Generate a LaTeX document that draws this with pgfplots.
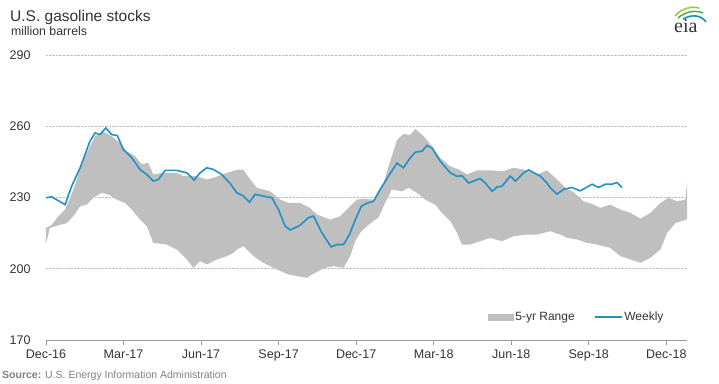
\documentclass[border=0pt]{standalone}
\usepackage{fontspec}
\setmainfont{Liberation Sans}
\newfontfamily\seriffont{Liberation Serif}
\usepackage{pgfplots}
\pgfplotsset{compat=1.18}
\definecolor{rangegray}{RGB}{191,191,191}
\definecolor{weekblue}{RGB}{32,145,196}
\definecolor{txtgray}{RGB}{51,51,51}
\definecolor{srcgray}{RGB}{128,128,128}
\begin{document}
\begin{tikzpicture}
\begin{axis}[
  at={(0,0)}, anchor=south west,
  scale only axis, width=641bp, height=285bp,
  xmin=0, xmax=24.8, ymin=170, ymax=290,
  xtick={0,3,6,9,12,15,18,21,24},
  xticklabels={Dec-16,Mar-17,Jun-17,Sep-17,Dec-17,Mar-18,Jun-18,Sep-18,Dec-18},
  ytick={170,200,230,260,290},
  axis lines*=left,
  y axis line style={draw=none},
  x axis line style={draw=black!40, line width=0.7bp},
  ytick style={draw=none},
  xtick style={draw=black!40, line width=0.7bp},
  tick align=outside, major tick length=5bp,
  ymajorgrids, grid style={densely dotted, draw=black!25, line width=0.6bp},
  /pgf/number format/assume math mode=true,
  tick label style={font=\fontsize{12.5bp}{14bp}\selectfont, text=txtgray},
  yticklabel style={xshift=-7bp},
  xticklabel style={yshift=-1bp},
  legend style={draw=none, fill=none, at={(0.828,0.081)}, anchor=center,
    font=\fontsize{12bp}{14bp}\selectfont, text=txtgray,
    /tikz/every even column/.append style={column sep=17bp}},
  legend columns=2, legend cell align=left,
]
% 5-yr range: upper bound (left to right), then lower bound (right to left)
\addplot[fill=rangegray, draw=none, forget plot] coordinates {
(0.0,217.2)(0.22,218.5)(0.48,222.1)(0.74,224.9)(1.06,233.4)(1.38,244.0)(1.70,251.6)(1.90,255.8)(2.22,257.7)(2.54,255.8)(2.86,253.0)(3.12,249.5)(3.45,247.4)(3.70,244.0)(3.96,244.6)(4.15,239.7)(4.54,240.4)(5.06,240.4)(5.32,239.0)(5.83,239.0)(6.22,237.6)(6.48,238.3)(7.00,240.4)(7.44,241.8)(7.64,241.6)(7.90,237.6)(8.16,234.1)(8.67,232.6)(9.06,229.1)(9.38,227.7)(9.83,227.7)(10.22,225.6)(10.48,222.8)(11.00,220.7)(11.38,222.1)(11.70,225.6)(12.03,229.1)(12.28,229.5)(12.67,229.1)(13.06,236.1)(13.19,240.8)(13.58,254.2)(13.83,256.8)(14.09,256.3)(14.29,258.8)(14.61,255.8)(14.93,251.6)(15.25,246.7)(15.64,243.1)(15.96,241.8)(16.29,239.7)(16.67,241.4)(17.19,241.4)(17.70,241.1)(18.09,242.5)(18.48,241.8)(19.00,239.7)(19.38,241.4)(19.77,237.6)(20.09,234.1)(20.41,232.3)(20.80,228.4)(21.19,227.0)(21.45,225.6)(21.83,227.0)(22.22,224.9)(22.61,223.5)(23.00,221.1)(23.38,223.5)(23.77,227.7)(24.09,229.9)(24.42,228.4)(24.74,229.1)(24.80,236.1)
(24.80,221.0)(24.74,220.6)(24.35,219.2)(24.03,215.1)(23.77,208.1)(23.38,204.6)(23.00,202.5)(22.61,203.9)(22.22,205.3)(21.83,208.8)(21.32,210.2)(20.93,210.9)(20.55,212.3)(20.16,213.0)(19.90,214.4)(19.51,215.8)(19.00,214.4)(18.61,214.4)(18.09,213.7)(17.64,211.6)(17.19,213.0)(16.80,211.6)(16.41,210.2)(16.09,210.2)(15.90,215.2)(15.64,220.1)(15.32,223.5)(15.06,227.0)(14.67,229.1)(14.35,232.0)(14.03,234.1)(13.77,232.6)(13.38,233.4)(13.12,227.7)(12.86,221.5)(12.67,220.1)(12.42,218.0)(12.16,215.2)(11.96,211.6)(11.77,205.3)(11.51,200.4)(11.12,201.1)(10.80,200.4)(10.41,198.3)(10.09,196.2)(9.71,196.9)(9.38,197.6)(8.93,199.7)(8.41,202.5)(8.03,205.3)(7.64,209.5)(7.38,208.1)(7.25,206.7)(7.00,205.3)(6.61,203.9)(6.22,201.8)(5.96,203.2)(5.70,200.4)(5.45,203.9)(5.06,208.1)(4.67,210.2)(4.15,210.9)(3.90,217.9)(3.64,220.7)(3.32,224.9)(3.06,227.7)(2.74,229.1)(2.41,231.3)(2.16,232.0)(1.83,229.9)(1.58,227.0)(1.32,226.3)(1.06,222.1)(0.80,219.2)(0.54,218.5)(0.15,217.2)(0.0,210.5)
} -- cycle;
\addplot[weekblue, line width=1.6bp, forget plot] coordinates {
(0.0,229.9)(0.22,230.3)(0.74,227.0)(0.99,234.7)(1.32,242.5)(1.70,253.7)(1.90,257.2)(2.09,256.5)(2.31,259.3)(2.54,256.5)(2.76,256.1)(2.99,250.2)(3.32,246.7)(3.64,241.8)(3.90,239.7)(4.15,236.9)(4.35,237.6)(4.61,241.4)(5.06,241.4)(5.45,240.4)(5.73,237.3)(5.96,240.4)(6.22,242.5)(6.48,241.8)(6.80,239.7)(7.00,237.3)(7.12,236.0)(7.38,232.0)(7.64,230.6)(7.87,228.0)(8.09,231.3)(8.41,230.6)(8.74,229.9)(8.99,225.0)(9.25,218.0)(9.45,216.3)(9.83,218.3)(10.15,221.5)(10.35,222.2)(10.67,215.2)(11.03,209.2)(11.25,210.2)(11.51,210.2)(11.74,214.4)(11.96,220.4)(12.20,226.3)(12.44,227.7)(12.67,228.4)(12.93,233.4)(13.25,239.0)(13.58,244.5)(13.83,242.5)(14.09,246.7)(14.29,249.1)(14.55,249.5)(14.74,251.9)(14.93,250.9)(15.25,245.3)(15.64,240.4)(15.90,238.9)(16.09,239.2)(16.35,236.1)(16.80,238.0)(17.00,236.1)(17.26,232.6)(17.45,234.4)(17.64,234.7)(17.96,239.0)(18.16,236.9)(18.48,240.4)(18.67,241.6)(19.00,239.7)(19.13,239.0)(19.38,236.1)(19.51,234.1)(19.77,231.4)(20.03,233.5)(20.35,234.2)(20.67,232.8)(21.13,235.6)(21.38,234.2)(21.64,235.6)(21.90,235.6)(22.09,236.3)(22.29,234.2)
};
\addlegendimage{legend image code/.code={\fill[rangegray] (0bp,-2.8bp) rectangle (25bp,2.8bp);}}
\addlegendentry{5-yr Range}
\addlegendimage{legend image code/.code={\draw[weekblue, line width=1.6bp] (0bp,0bp) -- (27bp,0bp);}}
\addlegendentry{Weekly}
\end{axis}
% titles and source
\node[anchor=base west, inner sep=0pt, text=txtgray, font=\fontsize{15.5bp}{18bp}\selectfont] at (-36bp,318bp) {U.S. gasoline stocks};
\node[anchor=base west, inner sep=0pt, text=txtgray, font=\fontsize{12.3bp}{14bp}\selectfont] at (-35bp,304bp) {million barrels};
\node[anchor=base west, inner sep=0pt, text=srcgray, font=\fontsize{10.5bp}{12bp}\selectfont] at (-44bp,-38bp) {\textbf{Source:} U.S. Energy Information Administration};
% eia logo
\node[anchor=base west, inner sep=0pt, text=txtgray, font=\seriffont\fontsize{20bp}{22bp}\selectfont] at (628bp,307bp) {eia};
\draw[color={rgb,255:red,160;green,200;blue,60}, line width=1.6bp] (629bp,324bp) .. controls (636bp,332bp) and (646bp,334bp) .. (653bp,332bp);
\draw[color={rgb,255:red,60;green,170;blue,80}, line width=1.4bp] (632bp,322bp) .. controls (640bp,329bp) and (650bp,330bp) .. (657bp,327bp);
\draw[color={rgb,255:red,30;green,140;blue,200}, line width=1.6bp] (637bp,321bp) .. controls (646bp,326bp) and (655bp,325bp) .. (660bp,318bp);
\path[use as bounding box] (-46bp,-44bp) rectangle (673bp,340bp);
\end{tikzpicture}
\end{document}
